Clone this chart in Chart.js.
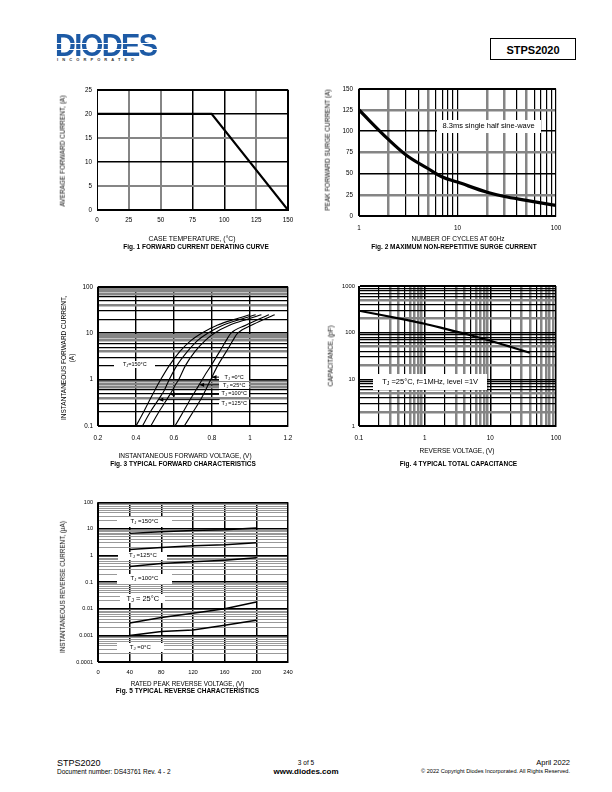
<!DOCTYPE html>
<html><head><meta charset="utf-8">
<script src="https://cdn.jsdelivr.net/npm/chart.js@4"></script>
<style>
body{margin:0;background:#fff;}
#page{position:relative;width:612px;height:792px;overflow:hidden;font-family:'Liberation Sans',Arial,sans-serif;color:#000;background:#fff;}
.t{position:absolute;white-space:nowrap;line-height:1;}
</style></head><body><div id="page"></div>
<script>
// ---------------- DATA ----------------
// Fig 1 – forward current derating
const fig1Temp = [0, 90, 150];
const fig1Current = [20, 20, 0];
const fig1XTicks = [0, 25, 50, 75, 100, 125, 150];
const fig1YTicks = [0, 5, 10, 15, 20, 25];

// Fig 2 – surge current
const fig2Cycles = [1, 2, 3, 5, 7, 10, 20, 30, 50, 70, 100];
const fig2Surge = [125, 90, 72, 56, 46, 40, 28, 23, 18.5, 15.5, 12.5];
const fig2XLabels = ['1', '10', '100'];
const fig2YTicks = [0, 25, 50, 75, 100, 125, 150];

// Fig 3 – forward characteristics (V, A)
const fig3V150 = [0.40, 0.44, 0.47, 0.50, 0.53, 0.575, 0.63, 0.69, 0.745, 0.83, 0.92, 1.00];
const fig3I150 = [0.1, 0.2, 0.35, 0.6, 1, 2, 4, 7, 10, 15, 20, 25];
const fig3V125 = [0.434, 0.475, 0.518, 0.55, 0.575, 0.615, 0.67, 0.725, 0.777, 0.86, 0.95, 1.03];
const fig3I125 = [0.1, 0.2, 0.37, 0.6, 1, 2, 4, 7, 10, 15, 20, 25];
const fig3V100 = [0.478, 0.52, 0.579, 0.61, 0.625, 0.66, 0.71, 0.765, 0.812, 0.895, 0.985, 1.06];
const fig3I100 = [0.1, 0.2, 0.48, 0.8, 1, 2, 4, 7, 10, 15, 20, 25];
const fig3V25 = [0.605, 0.648, 0.69, 0.733, 0.76, 0.795, 0.84, 0.875, 0.90, 0.98, 1.045, 1.10];
const fig3I25 = [0.1, 0.2, 0.4, 0.78, 1.2, 2, 4, 7, 10, 15, 20, 25];
const fig3V0 = [0.654, 0.70, 0.745, 0.798, 0.83, 0.875, 0.91, 0.935, 1.01, 1.075, 1.13];
const fig3I0 = [0.1, 0.2, 0.4, 1.1, 2, 4, 7, 10, 15, 20, 25];
const fig3XTicks = [0.2, 0.4, 0.6, 0.8, 1.0, 1.2];
const fig3XLabels = ['0.2', '0.4', '0.6', '0.8', '1', '1.2'];
const fig3YLabels = ['0.1', '1', '10', '100'];

// Fig 4 – capacitance
const fig4V = [0.1, 0.2, 0.5, 1, 2, 5, 10, 20, 40];
const fig4C = [295, 245, 190, 155, 122, 88, 67, 50, 37];
const fig4XLabels = ['0.1', '1', '10', '100'];
const fig4YLabels = ['1', '10', '100', '1000'];

// Fig 5 – reverse characteristics (V, µA)
const fig5V = [40, 80, 120, 160, 200];
const fig5I150 = [6.8, 7.9, 8.7, 9.4, 10.8];
const fig5I125 = [1.7, 2.0, 2.35, 2.55, 3.0];
const fig5I100 = [0.39, 0.50, 0.58, 0.67, 0.82];
const fig5I25 = [0.0029, 0.0047, 0.0068, 0.0100, 0.018];
const fig5I0 = [0.00100, 0.0014, 0.0016, 0.0024, 0.0037];
const fig5XTicks = [0, 40, 80, 120, 160, 200, 240];
const fig5YLabels = ['0.0001', '0.001', '0.01', '0.1', '1', '10', '100'];

// ---------------- HELPERS ----------------
const FONT = "'Liberation Sans', Arial, sans-serif";
const page = document.getElementById('page');
const G = '#858585', K = '#000';

function pts(xs, ys) { return xs.map((x, i) => ({x, y: ys[i]})); }
function logTicks(lo, hi) {
  const t = [];
  for (let e = lo; e < hi; e++) for (let d = 1; d < 10; d++) t.push(+(d * Math.pow(10, e)).toPrecision(6));
  t.push(+Math.pow(10, hi).toPrecision(6));
  return t;
}
function sig(v) { const e = Math.floor(Math.log10(v) + 1e-9); return Math.round(v / Math.pow(10, e)); }
function labelFrom(labels) {
  return v => { const m = labels.find(l => Math.abs(Number(l) - v) / Math.max(1e-12, Math.abs(v)) < 1e-6); return m === undefined ? '' : m; };
}

function text(s, x, y, size, o = {}) {
  const d = document.createElement('div');
  d.className = 't';
  d.textContent = s;
  d.style.left = x + 'px'; d.style.top = y + 'px'; d.style.fontSize = size + 'px';
  if (o.bold) d.style.fontWeight = 'bold';
  const ax = o.align === 'left' ? '0' : o.align === 'right' ? '-100%' : '-50%';
  d.style.transform = `translate(${ax},-50%)` + (o.rot ? ' rotate(-90deg)' : '');
  page.appendChild(d);
  return d;
}

function drawNote(ctx, chart, n) {
  const xs = chart.scales.x, ys = chart.scales.y;
  const cx = xs.getPixelForValue(n.x), cy = ys.getPixelForValue(n.y);
  (n.arrows || []).forEach(a => {
    const x1 = xs.getPixelForValue(a.x1), y1 = ys.getPixelForValue(a.y1);
    const x2 = xs.getPixelForValue(a.x2), y2 = ys.getPixelForValue(a.y2);
    ctx.save(); ctx.strokeStyle = '#000'; ctx.fillStyle = '#000'; ctx.lineWidth = 1;
    ctx.beginPath(); ctx.moveTo(x1, y1); ctx.lineTo(x2, y2); ctx.stroke();
    const ang = Math.atan2(y2 - y1, x2 - x1);
    ctx.beginPath(); ctx.moveTo(x2, y2);
    ctx.lineTo(x2 - 5 * Math.cos(ang - 0.45), y2 - 5 * Math.sin(ang - 0.45));
    ctx.lineTo(x2 - 5 * Math.cos(ang + 0.45), y2 - 5 * Math.sin(ang + 0.45));
    ctx.closePath(); ctx.fill(); ctx.restore();
  });
  ctx.save();
  ctx.fillStyle = '#fff';
  ctx.fillRect(Math.round(cx - n.w / 2), Math.round(cy - n.h / 2), n.w, n.h);
  ctx.fillStyle = '#000';
  ctx.textBaseline = 'middle';
  const f = `${n.size}px ${FONT}`, fs = `${(n.size * 0.7).toFixed(1)}px ${FONT}`;
  const parts = n.sub ? [[n.pre, f, 0], [n.sub, fs, n.size * 0.25], [n.post, f, 0]] : [[n.pre, f, 0]];
  let tw = 0;
  parts.forEach(p => { ctx.font = p[1]; tw += ctx.measureText(p[0]).width; });
  let x = cx - tw / 2;
  parts.forEach(p => { ctx.font = p[1]; ctx.fillText(p[0], x, cy + p[2]); x += ctx.measureText(p[0]).width; });
  ctx.restore();
}

function axis(a, pos, prop, val) {
  return {
    type: a.type, position: pos, min: a.min, max: a.max,
    afterBuildTicks: s => { s.ticks = a.ticks.map(v => ({value: v})); },
    afterFit: s => { s[prop] = val; },
    ticks: { autoSkip: false, maxRotation: 0, minRotation: 0, padding: a.pad, color: '#000',
      font: {family: FONT, size: a.font}, callback: v => a.label(v) },
    grid: { drawTicks: false,
      color: c => c.tick ? a.style(c.tick.value)[0] : '#000',
      lineWidth: c => c.tick ? a.style(c.tick.value)[1] : 1 },
    border: { display: true, color: '#000', width: 1 }
  };
}

function makeChart(spec) {
  const yw = 44, xh = 26, pt = 8, pr = 14;
  const W = spec.R - spec.L + yw + pr, H = spec.B - spec.T + pt + xh;
  const cv = document.createElement('canvas');
  cv.width = W; cv.height = H;
  cv.style.cssText = `position:absolute;left:${spec.L - yw}px;top:${spec.T - pt}px;width:${W}px;height:${H}px`;
  page.appendChild(cv);
  new Chart(cv, {
    type: 'line',
    data: { datasets: spec.datasets.map(d => Object.assign({
      borderColor: '#000', pointRadius: 0, fill: false, borderWidth: 1, tension: 0 }, d)) },
    options: {
      responsive: false, animation: false, events: [], parsing: true,
      layout: { padding: { top: pt, right: pr, left: 0, bottom: 0 } },
      plugins: { legend: { display: false }, tooltip: { enabled: false } },
      scales: { x: axis(spec.x, 'bottom', 'height', xh), y: axis(spec.y, 'left', 'width', yw) }
    },
    plugins: [{
      id: 'notes',
      beforeDatasetsDraw(chart) { (spec.notes || []).forEach(n => drawNote(chart.ctx, chart, n)); },
      afterDatasetsDraw(chart) {
        const a = chart.chartArea, ctx = chart.ctx;
        ctx.save(); ctx.strokeStyle = '#000'; ctx.lineWidth = 1;
        ctx.strokeRect(Math.round(a.left) + 0.5, Math.round(a.top) + 0.5, Math.round(a.right - a.left) - 1, Math.round(a.bottom - a.top) - 1);
        ctx.restore();
      }
    }]
  });
}

// ---------------- HEADER / FOOTER ----------------
const logo = text('DIODES', 55, 46, 29, {bold: true, align: 'left'});
logo.style.letterSpacing = '-1.6px';
logo.style.background = 'linear-gradient(#1d5aa5 0 40%, #fff 40% 45%, #1d5aa5 45% 58%, #fff 58% 62%, #1d5aa5 62%)';
logo.style.webkitBackgroundClip = 'text';
logo.style.backgroundClip = 'text';
logo.style.color = 'transparent';
logo.style.transform = 'translate(0,-50%) scale(1,1.08)';
const inc = text('INCORPORATED', 57, 60, 4, {bold: true, align: 'left'});
inc.style.letterSpacing = '4.1px'; inc.style.color = '#333';

const hb = document.createElement('div');
hb.style.cssText = 'position:absolute;left:490px;top:38px;width:86px;height:22px;border:1px solid #000;box-sizing:border-box;';
page.appendChild(hb);
text('STPS2020', 533, 49.5, 11, {bold: true});

text('STPS2020', 57, 763, 9, {align: 'left'});
text('Document number: DS43761 Rev. 4 - 2', 57, 772, 6.5, {align: 'left'});
text('3 of 5', 306, 763, 6.5);
text('www.diodes.com', 306, 772, 8, {bold: true});
text('April 2022', 570, 763, 7.5, {align: 'right'});
text('\u00A9 2022 Copyright Diodes Incorporated. All Rights Reserved.', 570, 772, 5.6, {align: 'right'});

// ---------------- FIG 1 ----------------
const f1x = {25: [G, 2], 50: [G, 2], 75: [K, 1.5], 100: [K, 1.5], 125: [G, 2]};
const f1y = {5: [G, 2], 10: [K, 1.5], 15: [G, 2], 20: [K, 1.5]};
makeChart({
  L: 97, T: 89, R: 288, B: 210,
  x: { type: 'linear', min: 0, max: 150, ticks: fig1XTicks, pad: 6, font: 6.3, label: v => String(v), style: v => f1x[v] || [K, 1] },
  y: { type: 'linear', min: 0, max: 25, ticks: fig1YTicks, pad: 5, font: 6.3, label: v => String(v), style: v => f1y[v] || [K, 1] },
  datasets: [{ data: pts(fig1Temp, fig1Current), borderWidth: 2.2 }]
});
text('AVERAGE FORWARD CURRENT, (A)', 63, 151, 6.5, {rot: true});
text('CASE TEMPERATURE, (\u00B0C)', 192, 238.5, 6.8);
text('Fig. 1 FORWARD CURRENT DERATING CURVE', 196, 246.5, 6.5, {bold: true});

// ---------------- FIG 2 ----------------
const f2xs = {2: [G, 2.5], 3: [K, 1.2], 4: [K, 1.2], 5: [G, 2.5], 6: [K, 1.2], 7: [K, 1.2], 8: [K, 1.2], 9: [K, 1.2],
  20: [G, 2.5], 30: [G, 2.5], 40: [K, 1.2], 50: [G, 2.5], 60: [K, 1.2], 70: [K, 1.2], 80: [K, 1.2], 90: [K, 1.2]};
const f2y = {25: [G, 2.5], 50: [K, 1.5], 75: [G, 2.5], 100: [K, 1.5], 125: [G, 2.5]};
makeChart({
  L: 359, T: 87, R: 556, B: 216,
  x: { type: 'logarithmic', min: 1, max: 100, ticks: logTicks(0, 2), pad: 8, font: 6.3, label: labelFrom(fig2XLabels), style: v => f2xs[v] || [K, 1.2] },
  y: { type: 'linear', min: 0, max: 150, ticks: fig2YTicks, pad: 6, font: 6.3, label: v => String(v), style: v => f2y[v] || [K, 1] },
  datasets: [{ data: pts(fig2Cycles, fig2Surge), borderWidth: 3.2, cubicInterpolationMode: 'monotone' }],
  notes: [{ x: 20.7, y: 106, w: 104, h: 13, size: 7.5, pre: '8.3ms single half sine-wave' }]
});
text('PEAK FORWARD SURGE CURRENT (A)', 328, 150, 6.5, {rot: true});
text('NUMBER OF CYCLES AT 60Hz', 458, 238.5, 6.5);
text('Fig. 2 MAXIMUM NON-REPETITIVE SURGE CURRENT', 454, 246.5, 6.5, {bold: true});

// ---------------- FIG 3 ----------------
const f3ys = {2: [K, 1.2], 3: [K, 1.2], 4: [G, 2.5], 5: [K, 1.2], 6: [K, 1.2], 7: [G, 2.5], 8: [G, 2.5], 9: [G, 2.5], 1: [K, 1.5]};
makeChart({
  L: 98, T: 286, R: 288, B: 426,
  x: { type: 'linear', min: 0.2, max: 1.2, ticks: fig3XTicks, pad: 8, font: 6.3, label: labelFrom(fig3XLabels), style: v => [K, 1.4] },
  y: { type: 'logarithmic', min: 0.1, max: 100, ticks: logTicks(-1, 2), pad: 5, font: 6.3, label: labelFrom(fig3YLabels), style: v => f3ys[sig(v)] || [K, 1.2] },
  datasets: [
    { data: pts(fig3V150, fig3I150), borderWidth: 1.1, cubicInterpolationMode: 'monotone' },
    { data: pts(fig3V125, fig3I125), borderWidth: 1.1, cubicInterpolationMode: 'monotone' },
    { data: pts(fig3V100, fig3I100), borderWidth: 1.1, cubicInterpolationMode: 'monotone' },
    { data: pts(fig3V25, fig3I25), borderWidth: 1.1, cubicInterpolationMode: 'monotone' },
    { data: pts(fig3V0, fig3I0), borderWidth: 1.1, cubicInterpolationMode: 'monotone' }
  ],
  notes: [
    { x: 0.394, y: 2.1, w: 41, h: 7, size: 5.5, pre: 'T', sub: 'J', post: '=150\u00B0C' },
    { x: 0.917, y: 1.13, w: 30, h: 7, size: 5.5, pre: 'T', sub: 'J', post: ' =0\u00B0C', arrows: [{x1: 0.84, y1: 1.13, x2: 0.80, y2: 1.13}] },
    { x: 0.917, y: 0.76, w: 30, h: 7, size: 5.5, pre: 'T', sub: 'J', post: ' =25\u00B0C', arrows: [{x1: 0.84, y1: 0.77, x2: 0.735, y2: 0.77}] },
    { x: 0.917, y: 0.49, w: 30, h: 7, size: 5.5, pre: 'T', sub: 'J', post: ' =100\u00B0C', arrows: [{x1: 0.84, y1: 0.48, x2: 0.58, y2: 0.48}] },
    { x: 0.917, y: 0.31, w: 30, h: 7, size: 5.5, pre: 'T', sub: 'J', post: ' =125\u00B0C', arrows: [{x1: 0.84, y1: 0.37, x2: 0.52, y2: 0.37}] }
  ]
});
text('INSTANTANEOUS FORWARD CURRENT,', 64, 358, 6.5, {rot: true});
text('(A)', 72, 358, 6.5, {rot: true});
text('INSTANTANEOUS FORWARD VOLTAGE, (V)', 185, 456, 6.5);
text('Fig. 3 TYPICAL FORWARD CHARACTERISTICS', 183, 464, 6.5, {bold: true});

// ---------------- FIG 4 ----------------
const f4xs = {2: [K, 1.2], 3: [G, 2.5], 4: [G, 2.5], 5: [K, 1.2], 6: [G, 2.5], 7: [G, 2.5], 8: [G, 2.5], 9: [G, 2.5], 1: [K, 1.5]};
const f4ys = {2: [G, 2.5], 3: [K, 1.2], 4: [K, 1.2], 5: [G, 2.5], 6: [K, 1.2], 7: [K, 1.2], 8: [K, 1.2], 9: [K, 1.2], 1: [K, 1.5]};
makeChart({
  L: 359, T: 286, R: 556, B: 426,
  x: { type: 'logarithmic', min: 0.1, max: 100, ticks: logTicks(-1, 2), pad: 8, font: 6.3, label: labelFrom(fig4XLabels), style: v => f4xs[sig(v)] || [K, 1.2] },
  y: { type: 'logarithmic', min: 1, max: 1000, ticks: logTicks(0, 3), pad: 4, font: 5.8, label: labelFrom(fig4YLabels), style: v => f4ys[sig(v)] || [K, 1.2] },
  datasets: [{ data: pts(fig4V, fig4C), borderWidth: 2.2, cubicInterpolationMode: 'monotone' }],
  notes: [{ x: 1.21, y: 8.77, w: 114, h: 16, size: 7.5, pre: 'T', sub: 'J', post: ' =25\u00B0C, f=1MHz, level =1V' }]
});
text('CAPACITANCE, (pF)', 331, 356, 6.5, {rot: true});
text('REVERSE VOLTAGE, (V)', 457, 451, 6.5);
text('Fig. 4 TYPICAL TOTAL CAPACITANCE', 458.5, 464, 6.5, {bold: true});

// ---------------- FIG 5 ----------------
makeChart({
  L: 98, T: 502, R: 288, B: 662,
  x: { type: 'linear', min: 0, max: 240, ticks: fig5XTicks, pad: 7, font: 5.8, label: v => String(v), style: v => [K, 1.5] },
  y: { type: 'logarithmic', min: 0.0001, max: 100, ticks: logTicks(-4, 2), pad: 5, font: 5.5, label: labelFrom(fig5YLabels), style: v => sig(v) === 1 ? [K, 1.6] : ['#999', 1] },
  datasets: [
    { data: pts(fig5V, fig5I150), borderWidth: 1.5 },
    { data: pts(fig5V, fig5I125), borderWidth: 1.5 },
    { data: pts(fig5V, fig5I100), borderWidth: 1.5 },
    { data: pts(fig5V, fig5I25), borderWidth: 1.5 },
    { data: pts(fig5V, fig5I0), borderWidth: 1.5 }
  ],
  notes: [
    { x: 58.6, y: 18.9, w: 55, h: 10, size: 6, pre: 'T', sub: 'J', post: ' =150\u00B0C' },
    { x: 56.7, y: 1.0, w: 49, h: 8, size: 6, pre: 'T', sub: 'J', post: ' =125\u00B0C' },
    { x: 58.6, y: 0.136, w: 55, h: 10, size: 6, pre: 'T', sub: 'J', post: ' =100\u00B0C' },
    { x: 56.7, y: 0.024, w: 45, h: 9, size: 7.5, pre: 'T', sub: 'J', post: ' = 25\u00B0C' },
    { x: 53.5, y: 0.000343, w: 47, h: 9, size: 6, pre: 'T', sub: 'J', post: ' =0\u00B0C' }
  ]
});
text('INSTANTANEOUS REVERSE CURRENT, (\u00B5A)', 63, 587, 6.3, {rot: true});
text('RATED PEAK REVERSE VOLTAGE, (V)', 187.5, 684, 6.3);
text('Fig. 5 TYPICAL REVERSE CHARACTERISTICS', 187.5, 691, 6.5, {bold: true});
</script></body></html>
